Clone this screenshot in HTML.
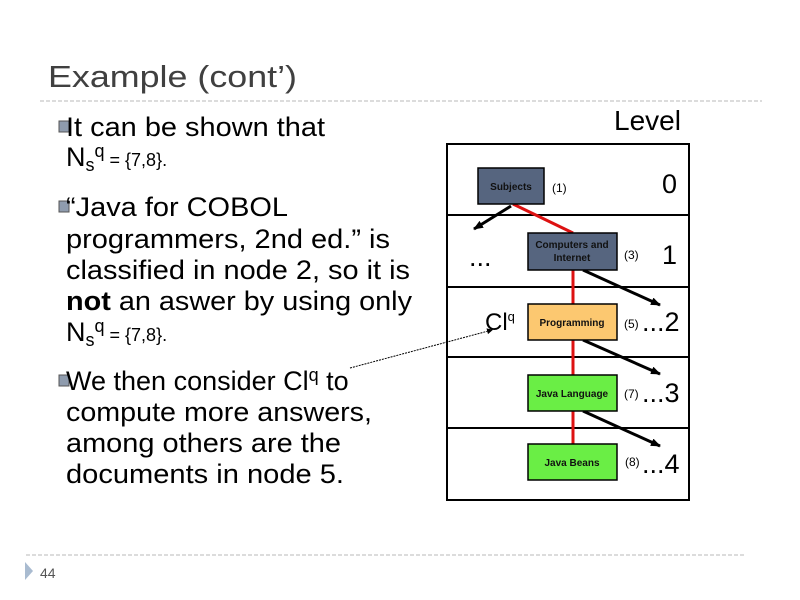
<!DOCTYPE html>
<html><head><meta charset="utf-8"><style>
html,body{margin:0;padding:0;background:#fff;}
svg{display:block;}
text{font-family:"Liberation Sans",Arial,sans-serif;}
</style></head><body>
<svg width="800" height="600" viewBox="0 0 800 600" xmlns="http://www.w3.org/2000/svg">
<defs>
<marker id="ah" markerWidth="6" markerHeight="6" refX="5" refY="3" orient="auto" markerUnits="strokeWidth"><path d="M0,0 L6,3 L0,6 z" fill="#000"/></marker>
<marker id="ah2" markerWidth="10" markerHeight="8" refX="9" refY="4" orient="auto" markerUnits="userSpaceOnUse"><path d="M0,0 L10,4 L0,8 z" fill="#000"/></marker>
</defs>
<text x="48" y="87" font-size="31" fill="#404040" textLength="249" lengthAdjust="spacingAndGlyphs">Example (cont’)</text>
<line x1="40" y1="101" x2="762" y2="101" stroke="#b8b8b8" stroke-dasharray="4,2"/>
<line x1="26" y1="555" x2="745" y2="555" stroke="#b8b8b8" stroke-dasharray="4,2"/>
<polygon points="25,562 33,571 25,580" fill="#a9bbd0"/>
<text x="40" y="578" font-size="14" fill="#555">44</text>

<g fill="#8f9cae" stroke="#555" stroke-width="1">
<rect x="59" y="121" width="10" height="11"/>
<rect x="59" y="201" width="10" height="11"/>
<rect x="59" y="375" width="10" height="11"/>
</g>
<g font-size="27" fill="#000" lengthAdjust="spacingAndGlyphs">
<text x="66" y="136" textLength="259" lengthAdjust="spacingAndGlyphs">It can be shown that</text>
<text x="66" y="166">N<tspan font-size="18" dy="5">s</tspan><tspan font-size="18" dy="-14">q</tspan><tspan font-size="18" dy="9"> = {7,8}.</tspan></text>
<text x="66" y="216" textLength="222" lengthAdjust="spacingAndGlyphs">“Java for COBOL</text>
<text x="66" y="248" textLength="324" lengthAdjust="spacingAndGlyphs">programmers, 2nd ed.” is</text>
<text x="66" y="279" textLength="344" lengthAdjust="spacingAndGlyphs">classified in node 2, so it is</text>
<text x="66" y="310" textLength="346" lengthAdjust="spacingAndGlyphs"><tspan font-weight="bold">not</tspan> an aswer by using only</text>
<text x="66" y="341">N<tspan font-size="18" dy="5">s</tspan><tspan font-size="18" dy="-14">q</tspan><tspan font-size="18" dy="9"> = {7,8}.</tspan></text>
<text x="66" y="390">We then consider Cl<tspan font-size="18" dy="-9">q</tspan><tspan dy="9"> to</tspan></text>
<text x="66" y="421" textLength="306" lengthAdjust="spacingAndGlyphs">compute more answers,</text>
<text x="66" y="452" textLength="275" lengthAdjust="spacingAndGlyphs">among others are the</text>
<text x="66" y="483" textLength="278" lengthAdjust="spacingAndGlyphs">documents in node 5.</text>
</g>

<text x="614" y="130" font-size="28">Level</text>
<rect x="447" y="144" width="242" height="356" fill="none" stroke="#000" stroke-width="2"/>
<g stroke="#000" stroke-width="2">
<line x1="447" y1="215" x2="689" y2="215"/>
<line x1="447" y1="287" x2="689" y2="287"/>
<line x1="447" y1="357" x2="689" y2="357"/>
<line x1="447" y1="428" x2="689" y2="428"/>
</g>
<g stroke="#dd1111" stroke-width="3">
<line x1="513" y1="204" x2="573" y2="233"/>
<line x1="573" y1="270" x2="573" y2="444"/>
</g>
<g stroke="#000" stroke-width="3">
<line x1="511" y1="206" x2="474" y2="229" marker-end="url(#ah2)"/>
<line x1="583" y1="270" x2="660" y2="305" marker-end="url(#ah2)"/>
<line x1="583" y1="340" x2="660" y2="374" marker-end="url(#ah2)"/>
<line x1="583" y1="411" x2="660" y2="446" marker-end="url(#ah2)"/>
</g>
<line x1="350" y1="368" x2="492" y2="330" stroke="#000" stroke-width="1" stroke-dasharray="2,1" marker-end="url(#ah)"/>
<g stroke="#000" stroke-width="1.5">
<rect x="478" y="168" width="66" height="36" fill="#56657f"/>
<rect x="528" y="233" width="89" height="37" fill="#56657f"/>
<rect x="528" y="304" width="89" height="36" fill="#fcc870"/>
<rect x="528" y="375" width="89" height="36" fill="#6aee45"/>
<rect x="528" y="444" width="89" height="36" fill="#6aee45"/>
</g>
<g font-size="10" font-weight="bold" fill="#111" text-anchor="middle">
<text x="511" y="190">Subjects</text>
<text x="572" y="248">Computers and</text>
<text x="572" y="261">Internet</text>
<text x="572" y="326">Programming</text>
<text x="572" y="397">Java Language</text>
<text x="572" y="466">Java Beans</text>
</g>
<g font-size="12" fill="#000">
<text x="552" y="192">(1)</text>
<text x="624" y="259">(3)</text>
<text x="624" y="328">(5)</text>
<text x="624" y="398">(7)</text>
<text x="625" y="466">(8)</text>
</g>
<g font-size="27" fill="#000">
<text x="662" y="193">0</text>
<text x="662" y="264">1</text>
<text x="642" y="331">...2</text>
<text x="642" y="402">...3</text>
<text x="642" y="473">...4</text>
<text x="469" y="266">...</text>
<text x="485" y="330" font-size="24">Cl<tspan font-size="13" dy="-9">q</tspan></text>
</g>
</svg>
</body></html>
